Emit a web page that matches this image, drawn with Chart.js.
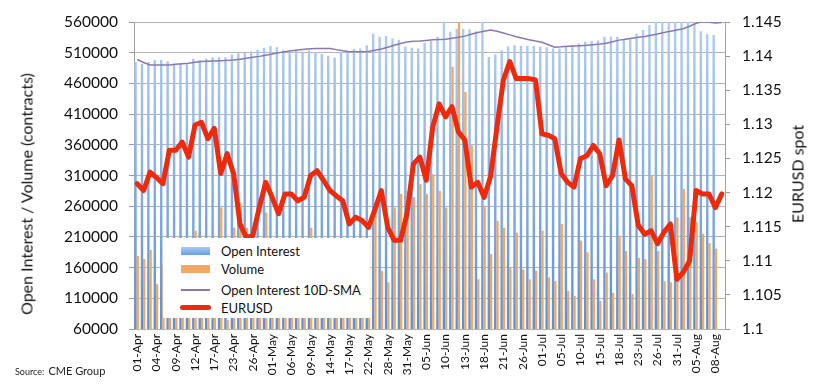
<!DOCTYPE html>
<html>
<head>
<meta charset="utf-8">
<script src="https://cdn.jsdelivr.net/npm/chart.js@4.4.1/dist/chart.umd.min.js"></script>
<style>
  html, body { margin: 0; padding: 0; background: #fff; }
  body { width: 816px; height: 392px; position: relative; overflow: hidden; font-family: Lato, "Liberation Sans", sans-serif; color: #111; }
  #wrap { position: absolute; left: 0; top: 0; width: 816px; height: 392px; }
  .vt { position: absolute; white-space: nowrap; transform: translate(-50%, -50%) rotate(-90deg); color: #111; }
  #legend { position: absolute; left: 163px; top: 238px; width: 207px; height: 80px; background: #fff; }
  .lrow { position: absolute; left: 0; height: 18px; width: 207px; }
  .lrow span.t { position: absolute; left: 58px; top: 0; line-height: 18px; font-size: 13px; white-space: nowrap; color: #111; }
  .sw { position: absolute; left: 18px; }
  #src { position: absolute; left: 15px; top: 359px; white-space: nowrap; color: #222; }
</style>
</head>
<body>
<div id="wrap"><canvas id="c"></canvas></div>
<div class="vt" style="left:26px; top:194px; font-size:16px;">Open Interest / Volume (contracts)</div>
<div class="vt" style="left:797px; top:174px; font-size:16px;">EURUSD spot</div>
<div id="legend">
  <div class="lrow" style="top:4px;"><div class="sw" style="top:5px; width:29px; height:8px; background:linear-gradient(#a9c9f1,#6c9fe0);"></div><span class="t">Open Interest</span></div>
  <div class="lrow" style="top:22px;"><div class="sw" style="top:5px; width:29px; height:8px; background:#f0a862;"></div><span class="t">Volume</span></div>
  <div class="lrow" style="top:43px;"><div class="sw" style="top:8px; width:29px; height:1.5px; background:#8a78b0;"></div><span class="t">Open Interest 10D-SMA</span></div>
  <div class="lrow" style="top:61px;"><div class="sw" style="top:6px; left:17px; width:31px; height:5px; border-radius:3px; background:#ee2a0c;"></div><span class="t">EURUSD</span></div>
</div>
<div id="src"><span style="font-size:9px;">Source:</span> <span style="font-size:11px;">CME Group</span></div>
<script>
const dates = [
  '01-Apr','02-Apr','03-Apr','04-Apr','05-Apr','08-Apr','09-Apr','10-Apr','11-Apr','12-Apr',
  '15-Apr','16-Apr','17-Apr','18-Apr','22-Apr','23-Apr','24-Apr','25-Apr','26-Apr','29-Apr',
  '30-Apr','01-May','02-May','03-May','06-May','07-May','08-May','09-May','10-May','13-May',
  '14-May','15-May','16-May','17-May','20-May','21-May','22-May','23-May','24-May','28-May',
  '29-May','30-May','31-May','03-Jun','04-Jun','05-Jun','06-Jun','07-Jun','10-Jun','11-Jun',
  '12-Jun','13-Jun','14-Jun','17-Jun','18-Jun','19-Jun','20-Jun','21-Jun','24-Jun','25-Jun',
  '26-Jun','27-Jun','28-Jun','01-Jul','02-Jul','03-Jul','05-Jul','08-Jul','09-Jul','10-Jul',
  '11-Jul','12-Jul','15-Jul','16-Jul','17-Jul','18-Jul','19-Jul','22-Jul','23-Jul','24-Jul',
  '25-Jul','26-Jul','29-Jul','30-Jul','31-Jul','01-Aug','02-Aug','05-Aug','06-Aug','07-Aug',
  '08-Aug','09-Aug'
];

const openInterest = [
  495000,492000,495000,498000,498000,496000,492000,492000,491000,500000,
  498000,500000,502000,502000,502000,507000,509000,510000,512000,515000,
  518000,521000,519000,514000,512000,514000,512000,514000,511000,508000,
  505000,502000,511000,513000,516000,517000,522000,541000,536000,537000,
  533000,531000,520000,518000,517000,526000,529000,536000,562000,544000,
  549000,549000,548000,545000,562000,503000,507000,514000,520000,522000,
  521000,521000,521000,520000,519000,517000,517000,520000,522000,525000,
  528000,529000,530000,536000,536000,536000,532000,532000,541000,547000,
  555000,562000,562000,562000,562000,562000,562000,562000,545000,540000,
  539000,null
];

const volume = [
  179000,174000,189000,133000,165000,180000,172000,160000,185000,220000,
  175000,168000,190000,258000,75000,225000,266000,225000,195000,170000,
  250000,185000,160000,175000,150000,170000,165000,225000,180000,160000,
  150000,185000,170000,160000,175000,190000,200000,252000,155000,136000,
  258000,280000,285000,275000,296000,280000,312000,285000,258000,487000,
  565000,446000,359000,141000,261000,182000,236000,225000,160000,217000,
  157000,141000,155000,220000,144000,138000,231000,122000,114000,204000,
  185000,141000,106000,152000,119000,212000,187000,117000,176000,174000,
  310000,187000,138000,136000,242000,288000,242000,234000,215000,200000,
  191000,null
];

const oiSma = [
  499000,494000,490000,490000,490000,490000,491000,492000,493000,494500,
  495500,496000,496500,497000,497500,498000,499500,501000,502500,504000,
  506000,508000,510000,511500,513000,514500,515500,516500,517000,517000,
  517000,515000,513000,511500,511500,511500,512000,514000,516000,519000,
  522000,525000,527500,528500,529000,530000,531000,531500,532000,533500,
  535000,537000,540000,543000,545000,547000,545000,542000,539000,536000,
  533500,531000,529000,527000,523000,519000,519500,520500,521000,521500,
  522000,523000,524000,525500,528000,530500,532000,533500,535000,536500,
  538500,540500,543000,545000,547000,549000,553000,558000,560500,559500,
  558500,559000
];

const eurusd = [
  1.1213,1.1203,1.1230,1.1222,1.1213,1.1262,1.1262,1.1274,1.1252,1.1299,
  1.1303,1.1279,1.1294,1.1228,1.1257,1.1228,1.1154,1.1134,1.1137,1.1178,
  1.1215,1.1193,1.1169,1.1198,1.1198,1.1188,1.1193,1.1225,1.1232,1.1218,
  1.1203,1.1195,1.1188,1.1154,1.1164,1.1159,1.1149,1.1175,1.1203,1.1149,
  1.1130,1.1130,1.1169,1.1242,1.1252,1.1218,1.1296,1.1330,1.1311,1.1326,
  1.1289,1.1277,1.1208,1.1215,1.1193,1.1223,1.1296,1.1365,1.1392,1.1367,
  1.1367,1.1367,1.1365,1.1286,1.1284,1.1279,1.1228,1.1215,1.1208,1.1250,
  1.1254,1.1269,1.1257,1.1210,1.1225,1.1277,1.1220,1.1210,1.1152,1.1139,
  1.1144,1.1125,1.1142,1.1154,1.1073,1.1083,1.1100,1.1203,1.1198,1.1198,
  1.1178,1.1198
];

const contractTicks = [60000,110000,160000,210000,260000,310000,360000,410000,460000,510000,560000];
const spotTicks = [1.1,1.105,1.11,1.115,1.12,1.125,1.13,1.135,1.14,1.145];

Chart.defaults.font.family = 'Lato, "Liberation Sans", sans-serif';
Chart.defaults.color = '#111';

function blueGrad(c) {
  const ch = c.chart, a = ch.chartArea;
  if (!a) return '#8db5ea';
  const g = ch.ctx.createLinearGradient(0, a.top, 0, a.bottom);
  g.addColorStop(0, '#b2cef2');
  g.addColorStop(0.5, '#86afe9');
  g.addColorStop(1, '#5a8fd9');
  return g;
}

new Chart(document.getElementById('c'), {
  type: 'bar',
  data: {
    labels: dates,
    datasets: [
      { type: 'line', label: 'EURUSD', data: eurusd, yAxisID: 'y1', xAxisID: 'x',
        borderColor: '#ee2a0c', borderWidth: 5, pointRadius: 0, tension: 0,
        borderJoinStyle: 'round', borderCapStyle: 'round', order: 0 },
      { type: 'line', label: 'Open Interest 10D-SMA', data: oiSma, yAxisID: 'y', xAxisID: 'x',
        borderColor: '#8a78b0', borderWidth: 1.5, pointRadius: 0, tension: 0, order: 1 },
      { type: 'bar', label: '', data: [], yAxisID: 'y', xAxisID: 'x2', stack: 'd2', order: 1.5,
        categoryPercentage: 0.7, barPercentage: 2.15 },
      { type: 'bar', label: 'Volume', data: volume, yAxisID: 'y', xAxisID: 'x2', stack: 'vol',
        backgroundColor: '#f0a862', borderWidth: 0, order: 2,
        categoryPercentage: 0.7, barPercentage: 2.05 },
      { type: 'bar', label: 'Open Interest', data: openInterest, yAxisID: 'y', xAxisID: 'x', stack: 'oi',
        backgroundColor: blueGrad, borderWidth: 0, order: 3,
        categoryPercentage: 0.7, barPercentage: 2.15 },
      { type: 'bar', label: '', data: [], yAxisID: 'y', xAxisID: 'x', stack: 'd1', order: 4,
        categoryPercentage: 0.7, barPercentage: 2.15 }
    ]
  },
  options: {
    responsive: true,
    maintainAspectRatio: false,
    animation: false,
    devicePixelRatio: 1,
    layout: { padding: { left: 64, right: 31, top: 22, bottom: 0 } },
    plugins: { legend: { display: false }, tooltip: { enabled: false } },
    scales: {
      x: {
        type: 'category', offset: true, stacked: false,
        grid: { display: false, drawTicks: false },
        border: { display: false },
        ticks: {
          autoSkip: false, maxRotation: 90, minRotation: 90, padding: 5,
          font: { size: 12 }, color: '#111',
          callback: (v, i) => (i % 3 === 0 ? dates[i] : '')
        },
        afterFit: (s) => { s.height = 63; }
      },
      x2: { type: 'category', offset: true, stacked: false, display: false },
      y: {
        position: 'left', stacked: false,
        min: contractTicks[0], max: contractTicks[contractTicks.length - 1],
        afterBuildTicks: (s) => { s.ticks = contractTicks.map(v => ({ value: v })); },
        ticks: { padding: 11, font: { size: 15.5 }, color: '#111', callback: (v) => String(v) },
        grid: { color: '#b4b4b4', lineWidth: 1, borderDash: [2, 3], tickLength: 5,
                tickColor: '#9a9a9a', tickBorderDash: [], drawTicks: true },
        border: { display: true, color: '#a0a0a0', width: 1 },
        afterFit: (s) => { s.width = 70; }
      },
      y1: {
        position: 'right',
        min: spotTicks[0], max: spotTicks[spotTicks.length - 1],
        afterBuildTicks: (s) => { s.ticks = spotTicks.map(v => ({ value: v })); },
        ticks: { padding: 12, font: { size: 15.5 }, color: '#111', callback: (v) => String(+v.toFixed(3)) },
        grid: { drawOnChartArea: false, tickLength: 5, tickColor: '#9a9a9a', drawTicks: true },
        border: { display: true, color: '#a0a0a0', width: 1 },
        afterFit: (s) => { s.width = 60; }
      }
    }
  }
});
</script>
</body>
</html>
